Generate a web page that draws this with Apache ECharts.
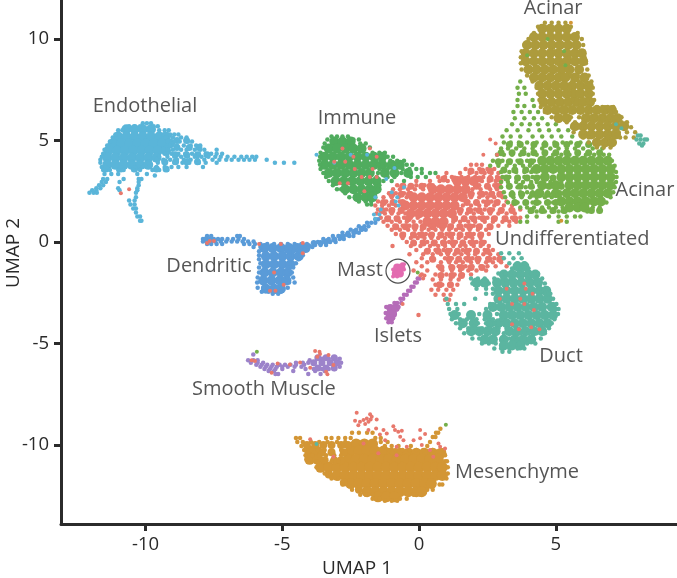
<!DOCTYPE html>
<html>
<head>
<meta charset="utf-8">
<style>
  html, body { margin: 0; background: #fff; }
  #main { width: 677px; height: 578px; }
</style>
<script src="https://cdn.jsdelivr.net/npm/echarts@6/dist/echarts.min.js"></script>
</head>
<body>
<div id="main"></div>
<script>
// every row is [umap2, umap1, umap1, ...]
const xTicks = [-10, -5, 0, 5]
const yTicks = [-10, -5, 0, 5, 10]

const endothelialDense = [
  [5.55,-10.7,-10.4,-10.1,-9.8],
  [5.2,-11,-10.7,-10.4,-10.1,-9.8,-9.5,-9.25],
  [4.85,-11.2,-10.9,-10.6,-10.3,-10,-9.7,-9.4,-9.1],
  [4.5,-11.35,-11.05,-10.75,-10.45,-10.15,-9.85,-9.55,-9.25],
  [4.15,-11.4,-11.1,-10.8,-10.5,-10.2,-9.9,-9.6],
  [3.8,-11.4,-11.1,-10.8,-10.5,-10.2,-9.9]
]
const endothelialMid = [
  [5,-8.85,-8.5],
  [4.65,-8.85,-8.4,-8.05],
  [4.3,-8.9,-8.5,-8.1,-7.75],
  [3.95,-9.3,-8.9,-8.5,-8.1],
  [3.6,-11.45,-10.9,-10.4,-9.6,-9.25]
]
const endothelial = [
  [5.85,-10.1,-9.95,-9.8],
  [5.7,-10.6,-10.4,-10.2,-9.7,-9.55],
  [5.5,-11,-10.85,-9.5,-9.3,-9.15],
  [5.3,-11.1,-9.35,-9.1,-8.95,-8.8],
  [5.15,-11.2,-9.25,-9,-8.7,-8.5],
  [4.95,-11.3,-9.2,-8.95,-8.75,-8.45,-8.3],
  [4.75,-11.4,-9.1,-8.85,-8.6,-8.35,-8.15,-8],
  [4.55,-11.5,-9.2,-9,-8.7,-8.5,-8.2,-8,-7.85,-7.4],
  [4.35,-11.55,-9.3,-9.05,-8.8,-8.55,-8.3,-8.05,-7.8,-7.6,-7.4,-7.2],
  [4.2,-11.6,-9.5,-9.2,-8.95,-8.7,-8.45,-8.2,-7.95,-7.7,-7.45,-7.25,-7,-6.75,-6.5,-6.3,-6.1,-5.95],
  [4.05,-11.65,-9.6,-9.35,-9.1,-8.85,-8.6,-8.35,-8.1,-7.85,-7.55,-7.3,-7.05,-6.85,-6.6,-6.4,-6.2,-6,-5.57],
  [3.9,-11.65,-9.9,-9.55,-9.25,-8.95,-8.65,-8.4,-8.05,-7.8,-7.4,-5.27,-4.94,-4.56],
  [3.7,-11.6,-10.1,-9.9,-9.6,-9.3,-9.05,-8.8,-8.5,-7.9],
  [3.55,-11.55,-11.3,-11,-10.8,-10.45,-10.2,-9.75,-9.5,-9.2],
  [3.35,-11.5,-11.25,-11,-10.3,-9.95],
  [3.27,-9.66],
  [3.1,-11.55,-11.4,-10.25,-10.15,-10.8],
  [2.95,-11.6,-11.45,-10.25,-10.95],
  [2.8,-11.7,-11.55,-10.25],
  [2.65,-11.8,-11.65,-10.3,-11.0],
  [2.55,-11.95,-11.8,-10.3,-10.95],
  [2.42,-12.05,-11.9,-11.78,-10.35],
  [2.2,-10.35],
  [2.05,-10.4,-10.6],
  [1.85,-10.4,-10.55],
  [1.65,-10.35,-10.45],
  [1.45,-10.35],
  [1.25,-10.3,-10.2],
  [1.05,-10.2,-10.15]
]
const immuneDense = [
  [4.95,-3.1,-2.8,-2.5],
  [4.6,-3.3,-3,-2.7,-2.4,-2.1],
  [4.2,-3.45,-3.15,-2.85,-2.55,-2.25,-1.95,-1.65,-1.35],
  [3.8,-3.45,-3.15,-2.85,-2.55,-2.25,-1.95,-1.65,-1.35,-1,-.7],
  [3.4,-3.3,-3,-2.7,-2.4,-2.1,-1.8,-1.25,-.9,-.4],
  [3,-3.05,-2.75,-2.45,-2.15,-1.85,-1.55],
  [2.6,-2.7,-2.4,-2.1,-1.8,-1.55],
  [2.2,-2.25,-1.95,-1.7]
]
const immune = [
  [5.2,-3.2,-3,-2.8,-2.6],
  [5.05,-3.35,-2.4,-2.2],
  [4.85,-3.45,-2.15,-1.95],
  [4.65,-3.5,-2.05,-1.8],
  [4.4,-3.6,-1.7,-1.45,-1.25],
  [4.2,-3.62,-1.6,-1.4,-1.15,-.95],
  [4,-3.65,-1.55,-1.3,-1.05,-.8,-.55],
  [3.8,-3.62,-1.5,-1.2,-.95,-.7,-.45,-.25],
  [3.6,-3.6,-1.45,-1.15,-.85,-.6,-.35,-.1,.1],
  [3.4,-3.5,-1.5,-1.25,-.9,-.65,-.4,.1,.4,.6],
  [3.2,-3.4,-1.55,-1.15,-.9,-.3,-.05,.25],
  [3,-3.3,-1.6,-1.3,-1,-.55],
  [2.8,-3.15,-1.8,-1.45],
  [2.6,-3,-2.85,-1.75,-1.5],
  [2.4,-2.7,-1.6],
  [2.2,-2.55,-2.35,-1.7],
  [2,-2.2,-1.95,-1.75],
  [1.85,-1.9,-1.75]
]
const undifferentiatedDense = [
  [3.0,1.4,1.7,2.0],
  [2.6,.5,.8,1.1,1.4,1.7],
  [2.2,-.2,.1,.4,.7,1,1.3,1.6],
  [1.8,-.5,-.2,.1,.4,.7,1,1.3],
  [1.4,-.3,0,.3,.6,.9,1.2],
  [1.0,.3,.6,.9]
]
const undifferentiatedMid = [
  [3.5,1.9,2.3,2.6],
  [3.1,.9,1.3,2.2,2.6,2.9],
  [2.75,-.6,-.3,.1,.4,2.1,2.5,2.85],
  [2.35,-1,-.65,-.35,1.9,2.3,2.65,2.95],
  [1.95,-1.3,-.95,-.6,1.75,2.1,2.5,2.85],
  [1.55,-1.35,-1,-.65,1.5,1.85,2.2,2.6,3,3.4],
  [1.15,-1.15,-.8,-.4,1.3,1.65,2,2.35,2.75,3.15,3.5],
  [.75,-.85,-.5,-.15,.15,.5,.85,1.15,1.5,1.85,2.2,2.6],
  [.35,-.6,-.2,.1,.45,.8,1.15,1.5,1.85,2.25],
  [-.05,-.2,.15,.55,.9,1.25,1.6,1.95,2.3],
  [-.45,.3,.7,1.05,1.4,1.75,2.1,2.5],
  [-.85,.5,1.1,1.45,1.8,2.15,2.55,2.95],
  [-1.25,.8,1.2,1.55,1.9,2.3],
  [-1.65,.8,1.2,1.55],
  [-2.1,.75,1.15]
]
const undifferentiated = [
  [3.8,1.9,2.1,2.3],
  [3.6,1.7,2.2,2.5,2.75],
  [3.4,1,1.5,1.85,2.1,2.4,2.65,2.9],
  [3.2,.7,.95,1.2,1.55,1.8,2.05,2.35,2.6,2.85],
  [3,-.1,.4,.75,1.05,1.3,2.3,2.55,2.8,3],
  [2.8,-.8,-.55,-.1,.2,.5,2.2,2.5,2.75,2.95],
  [2.6,-.95,-.7,-.4,-.15,.15,1.95,2.25,2.6,2.85],
  [2.4,-1.1,-.85,-.55,-.3,1.95,2.2,2.45,2.7,3],
  [2.2,-1.3,-1,-.75,-.45,1.9,2.2,2.5,2.75,3.05],
  [2,-1.5,-1.2,-.95,-.7,1.8,2.1,2.35,2.65,2.9,3.2],
  [1.8,-1.6,-1.35,-1.1,-.85,1.6,1.9,2.2,2.45,2.75,3.1,3.4],
  [1.6,-1.5,-1.2,-.95,-.7,1.55,1.8,2.05,2.4,2.7,3.05,3.35,3.7],
  [1.4,-1.55,-1.25,-1,-.75,-.5,1.5,1.75,2,2.3,2.6,2.9,3.2,3.5],
  [1.2,-1.4,-1.1,-.85,-.55,-.3,-.05,1.35,1.65,1.9,2.2,2.5,2.8,3.1,3.4,3.7],
  [1,-1.3,-1,-.7,-.45,-.2,.05,1.25,1.5,1.8,2.05,2.4,2.7,3.05,3.3,3.55],
  [.8,-1.15,-.9,-.6,-.35,-.1,.15,.4,.7,.95,1.2,1.45,1.7,2,2.25,2.55,2.9,3.3],
  [.6,-1,-.7,-.4,-.15,.1,.35,.6,.85,1.1,1.35,1.6,1.85,2.15,2.45],
  [.4,-.85,-.55,-.25,0,.25,.5,.75,1,1.25,1.5,1.75,2,2.3,2.55],
  [.2,-.6,-.3,-.05,.2,.45,.7,.95,1.2,1.45,1.7,1.95,2.25],
  [0,-.45,-.2,.1,.3,.6,.85,1.1,1.35,1.6,1.85,2.1,2.4],
  [-.2,-.97,-.3,.05,.4,.7,.95,1.25,1.5,1.7,2,2.25,2.55],
  [-.4,-.1,.35,.6,.9,1.15,1.4,1.6,1.85,2.1,2.4,2.7],
  [-.6,-.35,.15,.5,.8,1.05,1.3,1.55,1.8,2.05,2.35,2.6,2.9],
  [-.8,.1,.45,.95,1.2,1.45,1.7,1.95,2.2,2.5,2.75,3.05],
  [-1,-.1,.3,.8,1.1,1.35,1.6,1.9,2.15,2.45,2.7,3],
  [-1.2,.1,.7,1.15,1.45,1.7,1.95,2.25,2.5,2.8,3.2],
  [-1.4,-.2,.3,.85,1.2,1.5,1.8,2.1,2.45],
  [-1.6,.1,.6,1,1.3,1.6,1.9],
  [-1.85,.5,.8,1.15,1.45],
  [-2.1,.6,.85,1.1,1.4],
  [-2.35,.45,.7,1,1.25],
  [-2.6,.6,.9,1.15],
  [-2.85,.95,1.1],
  [-3.6,-.02]
]
const acinarGreenDense = [
  [4,4.5,4.8,5.1,5.4,5.7,6,6.3,6.6,6.9],
  [3.6,4.3,4.6,4.9,5.2,5.5,5.8,6.1,6.4,6.7,7],
  [3.2,4.6,5.2,5.5,5.8,6.1,6.4,6.7,7],
  [2.8,4.5,5,5.5,5.8,6.1,6.4,6.7,7],
  [2.4,4.4,5,5.4,5.7,6,6.3,6.6,6.9],
  [2,5.2,5.5,5.8,6.1,6.4,6.65],
  [1.7,5.5,5.8,6.05]
]
const acinarGreenMid = [
  [4.8,3.3,3.7,4.2,4.6,5,5.4,5.8,6.2],
  [4.4,3,3.4,3.8,4.2,4.6,5,5.4,5.8,6.2,6.6],
  [3.95,2.9,3.3,3.7,4.1],
  [3.55,3.1,3.5,3.9,4.2],
  [3.15,3.2,3.6,3.95,4.3,4.9],
  [2.75,3.3,3.7,4.1,4.75,5.2],
  [2.35,3.4,3.75,4.15,4.7,5.1],
  [1.95,3.5,3.9,4.3,4.7,5],
  [1.55,4.1,4.5,4.9,5.3,6.3,6.6]
]
const acinarGreen = [
  [7.9,3.7],
  [7.6,3.6,3.85],
  [7.3,3.65,3.9],
  [7,3.6,4.15],
  [6.7,3.6,3.85,4.2],
  [6.4,3.45,3.75,4.05,4.35],
  [6.1,3.5,3.85,4.2,4.5],
  [5.8,3.4,3.75,4.05,4.35,4.7,5],
  [5.5,3.2,3.6,4,4.4,4.75,5.1,5.45],
  [5.2,3.05,3.35,3.7,4.15,4.5,4.85,5.2,5.6],
  [4.9,3.1,3.35,3.65,3.95,4.3,4.6,4.95,5.25,5.55,5.9,6.2],
  [4.6,3,3.25,3.55,3.85,4.15,4.5,4.8,5.1,5.4,5.7,6,6.35,6.7],
  [4.3,2.85,3.1,3.4,3.7,4,4.3,4.6,4.9,5.2,5.5,5.8,6.1,6.4,6.75,6.95],
  [4,2.7,3.05,3.35,3.6,3.95,4.2,7.05],
  [3.75,2.6,2.9,3.2,3.5,3.8,4.05,7.15],
  [3.45,3,3.3,3.55,3.85,4.1,7.2],
  [3.2,3.05,3.3,3.6,3.85,4.15,4.35,4.9,7.22],
  [2.95,3,3.25,3.55,3.8,4.1,4.3,4.8,5.2,7.2],
  [2.7,3,3.3,3.6,3.9,4.15,4.75,5.2,7.15],
  [2.45,3.1,3.4,3.7,3.95,4.15,4.7,5.15,7.1],
  [2.2,3.15,3.45,3.75,4.05,4.3,4.6,4.85,5.15,7],
  [1.95,3.25,3.6,3.9,4.15,4.4,4.65,4.9,6.85],
  [1.7,3.7,3.95,4.2,4.5,4.75,5,5.25,6.35,6.6],
  [1.5,4.05,4.3,4.6,4.85,5.1,5.35,6.15],
  [1.25,3.95,4.3,4.75,5.1,5.4,5.7,5.9],
  [1,3.7,3.95,5.4,5.1]
]
const acinarOliveDense = [
  [10.5,4.5,4.8,5.1,5.4],
  [10.1,4.2,4.5,4.8,5.1,5.4,5.7],
  [9.7,3.95,4.25,4.55,4.85,5.15,5.45,5.75],
  [9.3,3.9,4.2,4.5,4.8,5.1,5.4,5.7,5.95],
  [8.9,3.9,4.2,4.5,4.8,5.1,5.4,5.7,6],
  [8.5,4,4.3,4.6,4.9,5.2,5.5,5.85],
  [8.1,4.2,4.5,4.8,5.1,5.35,5.7,6.05],
  [7.7,4.4,4.7,5,5.3,5.6,5.9,6.2],
  [7.3,4.5,4.8,5.1,5.4,5.65,5.9,6.2],
  [6.9,4.55,4.85,5.15,5.45,5.75,6,6.25],
  [6.5,4.7,5,5.3,5.6,5.9,6.2,6.5,6.8,7.05],
  [6.1,5.1,5.4,6.1,6.4,6.7,7,7.25],
  [5.7,5.7,6,6.3,6.6,6.9,7.2,7.5],
  [5.3,6,6.3,6.6,6.9,7.2],
  [4.9,6.5,6.8,7.05]
]
const acinarOlive = [
  [10.8,4.6,4.85,5.1,5.35],
  [10.6,4.35,4.6,5.55],
  [10.3,4.2,5.8],
  [10,4,5.95],
  [9.7,3.85,6],
  [9.4,3.75,6.02,4.95],
  [9.1,3.72,6.05,5.5],
  [8.8,3.72,6.1,5.2],
  [8.5,3.75,6.15,5.55],
  [8.2,3.95,6.2,5.55,5.8],
  [7.9,4.15,5.6,5.85,6.1,6.3],
  [7.6,4.3,5.5,6.1,6.35],
  [7.3,4.35,5.5,6.1,6.35],
  [7,4.4,5.6,6.15,6.4],
  [6.65,4.45,6.2,6.5,6.7,6.9,7.1],
  [6.4,4.6,5.65,6.25,6.55,6.8,7,7.2],
  [6.15,4.85,5.55,5.85,6.1,6.4,6.7,6.95,7.2,7.4],
  [5.9,5.4,5.7,6,6.3,6.6,6.85,7.15,7.4,7.6],
  [5.65,5.6,5.85,6.1,6.9,7.15,7.35,7.55,7.75],
  [5.4,5.65,6,6.85,7.1,7.3,7.6,7.9],
  [5.15,6,6.2,6.9,7.1,7.35,7.55,7.85],
  [4.9,6.2,6.45,6.7,6.95,7.15],
  [4.65,6.5,6.75,7]
]
const ductDense = [
  [-1.2,3.6,3.85],
  [-1.6,3.1,3.4,3.7,4,4.25],
  [-2,2.1,2.4,2.85,3.15,3.45,3.75,4.05,4.35],
  [-2.4,2.9,3.2,3.5,3.8,4.1,4.4,4.65],
  [-2.8,2.9,3.2,3.5,3.8,4.1,4.4,4.7],
  [-3.2,2.7,3,3.3,3.6,3.9,4.2,4.5,4.85],
  [-3.6,1.3,1.9,2.5,3.1,3.4,3.7,4,4.3,4.6,4.9],
  [-4,1.6,2,2.6,2.9,3.2,3.5,3.8,4.1,4.4,4.7],
  [-4.4,1.9,2.2,2.5,2.8,3.3,3.6,3.9,4.2,4.5],
  [-4.8,2.4,2.7,3.1,3.5,3.8,4.1],
  [-5.1,3.1,3.4,3.7]
]
const duct = [
  [-.55,3,3.3,3.65],
  [-.8,3.1,3.45,3.75],
  [-1.05,3.3,3.6,3.85],
  [-1.3,3.4,3.7,4],
  [-1.55,2.9,3.15,3.5,3.8,4.1,4.35],
  [-1.8,1.9,2.15,2.4,2.75,3.05,3.35,3.7,3.95,4.25,4.5],
  [-2.05,1.95,2.25,2.55,2.9,3.2,3.55,3.8,4.1,4.4,4.6],
  [-2.3,2.1,2.45,2.7,4.4,4.7],
  [-2.55,2.45,2.7,4.6,4.8],
  [-2.8,1,2.05,4.7,4.9],
  [-3.05,1.05,1.35,1.65,2.6,4.9,5.02],
  [-3.3,1.1,1.4,2.45,2.7,5,5.1],
  [-3.55,1.15,1.45,1.85,2.2,2.5,2.85,5,5.08],
  [-3.8,1.2,1.5,1.75,2.1,2.4,2.7,3,4.95],
  [-4,1.35,1.65,1.9,2.15,2.45,2.75,3.05,3.35,4.85],
  [-4.25,1.5,1.8,2.05,2.3,2.6,2.9,3.2,3.55,4.55,4.75],
  [-4.5,1.65,1.95,2.25,2.55,2.8,3.1,3.45,3.7,4,4.3,4.6],
  [-4.75,1.95,2.2,2.5,2.75,3.05,3.3,3.6,3.85,4.15,4.45],
  [-5,2.3,2.55,2.8,3.1,3.35,3.65,3.95,4.25],
  [-5.25,2.75,3,3.3,3.6,3.85],
  [-5.4,3.05,3.3]
]
const dendriticDense = [
  [-.3,-5.65,-5.35,-5.05,-4.75,-4.45,-4.15],
  [-.7,-5.6,-5.3,-5,-4.7,-4.4],
  [-1.1,-5.6,-5.3,-5,-4.7],
  [-1.5,-5.65,-5.35,-5.05,-4.8],
  [-1.9,-5.7,-5.4,-5.1,-4.85],
  [-2.3,-5.6,-5.3,-5.05]
]
const dendriticMid = [
  [.12,-7.8,-7.6],
  [-.2,-4.3,-4.05],
  [-.05,-3.85,-3.6],
  [.05,-3.35],
  [.12,-3.1],
  [.25,-2.85],
  [.38,-2.6],
  [.5,-2.35],
  [.65,-2.1]
]
const dendritic = [
  [.3,-7.75,-7.6,-6.65,-6.55],
  [.15,-7.9,-7.8,-7.65,-7.5,-7.35,-7.2,-7,-6.8,-6.6,-6.4],
  [.02,-7.9,-7.75,-7.6,-7.45,-7.25,-7.05,-6.85,-6.65,-6.45,-6.25,-6.05],
  [-.1,-7.75,-7.6,-7.4,-7.2,-6.4,-6.2,-6,-5.8,-5.55,-5.3,-5.05,-4.8,-4.55,-4.3,-4.1],
  [-.25,-6.05,-5.8,-5.55,-5.3,-5,-4.75,-4.5,-4.3,-4.05,-3.9],
  [-.45,-5.85,-4.85,-4.6,-4.35],
  [-.65,-5.85,-4.75,-4.5,-4.25],
  [-.85,-5.85,-4.7,-4.4],
  [-1.05,-5.8,-4.75,-4.5],
  [-1.25,-5.85,-4.8,-4.6],
  [-1.5,-5.85,-4.85,-4.65],
  [-1.75,-5.9,-4.8,-4.6],
  [-2,-5.92,-4.75,-4.55],
  [-2.25,-5.9,-5.7,-5.5,-5.2,-5,-4.8],
  [-2.45,-5.75,-5.5,-5.25,-5.05],
  [-2.55,-5.35,-5.15],
  [-.15,-3.8,-3.6,-3.4],
  [0,-3.7,-3.45,-3.25,-3.05],
  [.15,-3.5,-3.3,-3.1,-2.9,-2.75],
  [.3,-3.15,-2.95,-2.75,-2.55,-2.4],
  [.45,-2.8,-2.6,-2.4,-2.2],
  [.6,-2.5,-2.3,-2.1,-1.95],
  [.78,-2.2,-2,-1.85],
  [.95,-1.9,-1.75,-1.6],
  [1.12,-1.6,-1.5]
]
const smoothMuscleDense = [
  [-5.7,-3.7,-3.4,-3.1],
  [-5.95,-3.85,-3.55,-3.25,-3],
  [-6.2,-3.7,-3.4,-3.1]
]
const smoothMuscle = [
  [-5.54,-6.06],
  [-5.75,-3.55,-3.3,-3.05,-2.9],
  [-5.82,-6.25,-6.05,-5.9,-4],
  [-5.95,-6.15,-5.9,-5.7,-4.5,-4.25,-4.05,-2.85],
  [-6.05,-5.95,-5.75,-5.55,-5.35,-5.1,-4.9,-4.7,-4.5,-4.2],
  [-6.15,-5.8,-5.6,-5.4,-5.2,-5,-4.8,-4.55,-4.3,-3.1,-2.9],
  [-6.25,-5.65,-5.45,-5.25,-5,-4.15,-3.85,-3.55,-3.3,-3.1],
  [-6.35,-5.5,-5.3,-4.6,-3.8,-3.45],
  [-6.5,-5.25,-5.15,-4.05,-3.6]
]
const isletsDense = [[-3.25,-1.05,-.85],[-3.55,-1.08,-.95],[-3.75,-1.05]]
const islets = [
  [-1.8,.02,-.05],
  [-2,-.15,-.08],
  [-2.2,-.28,-.2],
  [-2.4,-.4,-.32],
  [-2.6,-.55,-.45],
  [-2.8,-.68,-.58],
  [-3,-.9,-.8,-.65],
  [-3.2,-1.2,-.75],
  [-3.5,-1.22,-.9],
  [-3.75,-1.2,-1.05,-.95],
  [-3.95,-1.12,-1]
]
const mastDense = [[-1.25,-.8,-.65],[-1.55,-.85,-.7]]
const mast = [[-1.1,-.62,-.55],[-1.35,-.95,-.55],[-1.7,-.95,-.8]]
const mesenchymeDense = [
  [-9.95,-2.3,-2,-1.7],
  [-10.3,-4,-3.75,-2.5,-2.2,-1.9,-1.6,-1.3],
  [-10.4,-1,-.7,-.4,-.1,.2,.5,.8],
  [-10.7,-4,-3.7,-2.6,-2.3,-2,-1.7,-1.4,-1.1,-.8,-.5,-.2,.1,.4,.7],
  [-11.1,-3.6,-3.3,-3,-2.7,-2.4,-2.1,-1.8,-1.5,-1.2,-.9,-.6,-.3,0,.3,.6,.85],
  [-11.5,-3,-2.7,-2.4,-2.1,-1.8,-1.5,-1.2,-.9,-.6,-.3,0,.3,.6,.85],
  [-11.9,-2.5,-2.2,-1.9,-1.6,-1.3,-1,-.7,-.4,-.1,.2,.45],
  [-12.3,-1.9,-1.6,-1.3,-1,-.7,-.4,-.1,.1],
  [-12.55,-1.5,-1.2,-.9]
]
const mesenchymeMid = [
  [-10,-4.1,-3.8,-3.5,-3.2,-2.85,-2.6],
  [-10.35,-3.55,-3.2,-2.75],
  [-10.75,-3.45,-3.1,-2.85],
  [-11.45,-3.3],
  [-11.85,-2.75],
  [-12.2,-2.2]
]
const mesenchyme = [
  [-9.2,.78],
  [-9.4,.62,.7],
  [-9.6,.5,.6],
  [-9.4,-2.45,-2.2,-1.9,-1.7],
  [-9.65,-4.5,-4.35,-3.4,-3.2,-2.95,-2.7,-2.5,-1.6,-1.4],
  [-9.85,-4.45,-4.25,-3.95,-3.65,-3.35,-3,-2.7,-1.4,-1.15,.4],
  [-10.05,-4.3,-4.05,-3.8,-3.55,-3.2,-2.75,-1.25,-1,-.75,-.3,.3],
  [-10.25,-4.2,-3.95,-3.7,-3.45,-2.85,-1.1,-.85,-.6,-.35,-.1,.15,.5,.9],
  [-10.5,-4.15,-3.9,-3.65,-3.4,-3.1,-2.85,.95],
  [-10.8,-3.75,-3.45,-3.2,-2.95,.95,1.02],
  [-11.1,-3.75,1.05],
  [-11.4,-3.45,-3.25,1.05],
  [-11.65,-3.2,-2.95,1],
  [-11.95,-2.8,.75,.85],
  [-12.2,-2.45,-2.2,.3,.5],
  [-12.45,-2.15,-1.95,-1.7,.05,-.2],
  [-12.65,-1.7,-1.45,-.7,-.45],
  [-12.75,-1.25,-1,-.8]
]
const acinarTip = [[5.25,8,8.1],[5.05,7.95,8.1,8.25,8.33],[4.85,8.05,8.2],[4.75,8.15]]
// stray cells of one colour sitting inside another cluster
const strayRed = [
  [2.6,-10.6],[2.4,-10.9],[-9.71,-3.98],[-8.41,-2.28],[-8.48,-1.79],[-8.61,-1.73],[-8.69,-1.91],
  [-8.74,-1.77,-1.55],[-8.77,-2.03],[-8.8,-2.34],[-8.85,-2.16,-1.85],[-8.97,-1.97],[-9.02,-2.22],
  [-9.07,-.94],[-9.18,-1.57],[-9.26,-1.85,-1.3,-.88,.04],[-9.3,-.63],[-9.35,-.76],[-9.43,-1.18],
  [-9.46,.22],[-9.48,-1.43],[-9.59,-.69],[-9.67,.04],[-9.76,-1.24,-.57,-.2],[-9.92,-2.03,.71],
  [-10,.1],[-10.08,-.82,-.45,.77],[-10.17,.95],[-10.25,.4],[-10.41,-1.49],[-10.5,-.82],[-10.58,-3.13,.52],
  [-5.37,-3.8],[-5.4,-3.64],[-5.52,-3.62],[-5.57,-3.31],[-5.65,-3.72],[-5.82,-6.12],[-5.86,-6],
  [-5.93,-4.35],[-5.98,-5.17],[-6.03,-4.72],[-6.06,-3.13],[-6.19,-3.98],[-6.39,-3.4],[-6.44,-5.39],[-6.52,-3.35],
  [-.05,-7.75],[.05,-7.65,-7.5],[-.1,-5.85,-5.05],[-.05,-4.25],[-1.5,-5.3],[-2.4,-5.45,-5.25],[-2.1,-4.95],[-.55,-4.25],
  [4.6,-2.8,-1.8],[4.2,-2.4,-1.55],[3.95,-3.1,-2.7],[3.6,-2.35,-1.7],[3.2,-2.1,-1.8,-1.55],[2.9,-2.9,-2.6],[2.5,-2],
  [5.05,2.6],[4.85,2.8],[4.3,2.35,2.85],
  [-2.05,3.85],[-2.3,3.9,3.2],[-2.55,4.15],[-2.8,2.95,3.7],[-3.05,3.4,3.85],[-3.35,4.2],[-4.05,3.4],[-4.3,3.65,4.4],[-4.2,4.1],
  [-1.65,.05,.2],[-1.8,.15],[-3.05,-.6]
]
const strayBlue = [
  [4.3,-2.5,-1.9],[3.9,-3.1],[3.65,-.9],[3.1,-1.2],[2.7,-.55],[2.45,-1],[2.2,-.8,-1.6],[2,-.85],[1.8,-.75],
  [1.6,-1.4],[1.35,-1.65,-1.45],[1.15,-1.6],[4.3,-3.75]
]
const strayGreen = [[-5.4,-5.93],[-9,.98],[-1.5,-.05],[10,4.7],[9.4,5.3],[9.2,3.95],[8.7,5.35]]
const strayTeal = [[-9.95,-3.75],[5.8,7.2],[5.6,7.4]]
const strayOrange = [[1.05,5.2],[10.8,5.55]]

const labelNames = ['Endothelial', 'Immune', 'Acinar', 'Acinar', 'Undifferentiated', 'Dendritic', 'Mast', 'Islets', 'Duct', 'Smooth Muscle', 'Mesenchyme']
const labelX = [-10.02, -2.27, 4.9, 8.26, 5.6, -7.68, -2.16, -.77, 5.19, -5.67, 3.58]
const labelY = [6.7, 6.11, 11.53, 2.56, .15, -1.18, -1.38, -4.63, -5.62, -7.24, -11.33]
const mastRing = [[-.77, -1.43]]

const toPoints = rows => rows.flatMap(([y, ...xs]) => xs.map(x => [x, y]))

const dots = (name, rows, color, size) => ({
  name,
  type: 'scatter',
  data: toPoints(rows),
  symbolSize: size,
  itemStyle: { color, opacity: 1 },
  silent: true,
  animation: false
})

const textColor = '#2a2a2a'
const fontFamily = '"Open Sans", "Noto Sans", sans-serif'
const chart = echarts.init(document.getElementById('main'), null, { renderer: 'canvas' })

chart.setOption({
  animation: false,
  backgroundColor: '#ffffff',
  grid: { left: 61, right: 0, top: 0, bottom: 54, outerBoundsMode: 'none' },
  xAxis: {
    type: 'value',
    min: -13.09,
    max: 9.43,
    name: 'UMAP 1',
    nameLocation: 'middle',
    nameGap: 35,
    nameTextStyle: { color: textColor, fontSize: 19, fontFamily, padding: [0, 24, 0, 0] },
    axisLine: { onZero: false, lineStyle: { color: '#2b2b2b', width: 3 } },
    axisTick: { customValues: xTicks, length: 7, lineStyle: { color: '#2b2b2b', width: 3 } },
    axisLabel: { customValues: xTicks, color: textColor, fontSize: 18.5, fontFamily, margin: 11 },
    splitLine: { show: false }
  },
  yAxis: {
    type: 'value',
    min: -13.89,
    max: 11.92,
    name: 'UMAP 2',
    nameLocation: 'middle',
    nameGap: 38,
    nameMoveOverlap: false,
    nameTextStyle: { color: textColor, fontSize: 19, fontFamily, padding: [0, 0, 0, 18] },
    axisLine: { onZero: false, lineStyle: { color: '#2b2b2b', width: 3 } },
    axisTick: { customValues: yTicks, length: 7, lineStyle: { color: '#2b2b2b', width: 3 } },
    axisLabel: { customValues: yTicks, color: textColor, fontSize: 18.5, fontFamily, margin: 12 },
    splitLine: { show: false }
  },
  series: [
    dots('Endothelial', endothelialDense, '#5AB5D9', 10),
    dots('Endothelial', endothelialMid, '#5AB5D9', 7),
    dots('Endothelial', endothelial, '#5AB5D9', 4.5),
    dots('Immune', immuneDense, '#50AC5E', 10),
    dots('Immune', immune, '#50AC5E', 4.5),
    dots('Undifferentiated', undifferentiatedDense, '#E8786C', 10),
    dots('Undifferentiated', undifferentiatedMid, '#E8786C', 7),
    dots('Undifferentiated', undifferentiated, '#E8786C', 4.5),
    dots('Acinar', acinarGreenDense, '#74AF4A', 10),
    dots('Acinar', acinarGreenMid, '#74AF4A', 7),
    dots('Acinar', acinarGreen, '#74AF4A', 4.5),
    dots('Acinar', acinarOliveDense, '#AD9B3C', 10),
    dots('Acinar', acinarOlive, '#AD9B3C', 4.5),
    dots('Acinar tip', acinarTip, '#5BB5A0', 4.5),
    dots('Duct', ductDense, '#5BB5A0', 10),
    dots('Duct', duct, '#5BB5A0', 4.5),
    dots('Dendritic', dendriticDense, '#5A9BD8', 10),
    dots('Dendritic', dendriticMid, '#5A9BD8', 6),
    dots('Dendritic', dendritic, '#5A9BD8', 4.5),
    dots('Smooth Muscle', smoothMuscleDense, '#9C83CA', 7),
    dots('Smooth Muscle', smoothMuscle, '#9C83CA', 4.5),
    dots('Islets', isletsDense, '#B56CB8', 8),
    dots('Islets', islets, '#B56CB8', 4.5),
    dots('Mast', mastDense, '#E36BB0', 8),
    dots('Mast', mast, '#E36BB0', 4),
    dots('Mesenchyme', mesenchymeDense, '#D39635', 11),
    dots('Mesenchyme', mesenchymeMid, '#D39635', 8),
    dots('Mesenchyme', mesenchyme, '#D39635', 4.5),
    dots('stray', strayBlue, '#5AB5D9', 4),
    dots('stray', strayRed, '#E8786C', 4),
    dots('stray', strayGreen, '#74AF4A', 4),
    dots('stray', strayTeal, '#5BB5A0', 4),
    dots('stray', strayOrange, '#D39635', 4),
    {
      name: 'Mast ring',
      type: 'scatter',
      data: mastRing,
      symbolSize: 24,
      itemStyle: { color: 'transparent', borderColor: '#222222', borderWidth: 1.2 },
      silent: true
    },
    {
      name: 'Cluster labels',
      type: 'scatter',
      data: labelNames.map((name, i) => ({ name, value: [labelX[i], labelY[i]] })),
      symbolSize: 0,
      silent: true,
      label: {
        show: true,
        position: 'inside',
        formatter: '{b}',
        color: textColor,
        fontSize: 20,
        fontFamily
      }
    }
  ]
})
</script>
</body>
</html>
